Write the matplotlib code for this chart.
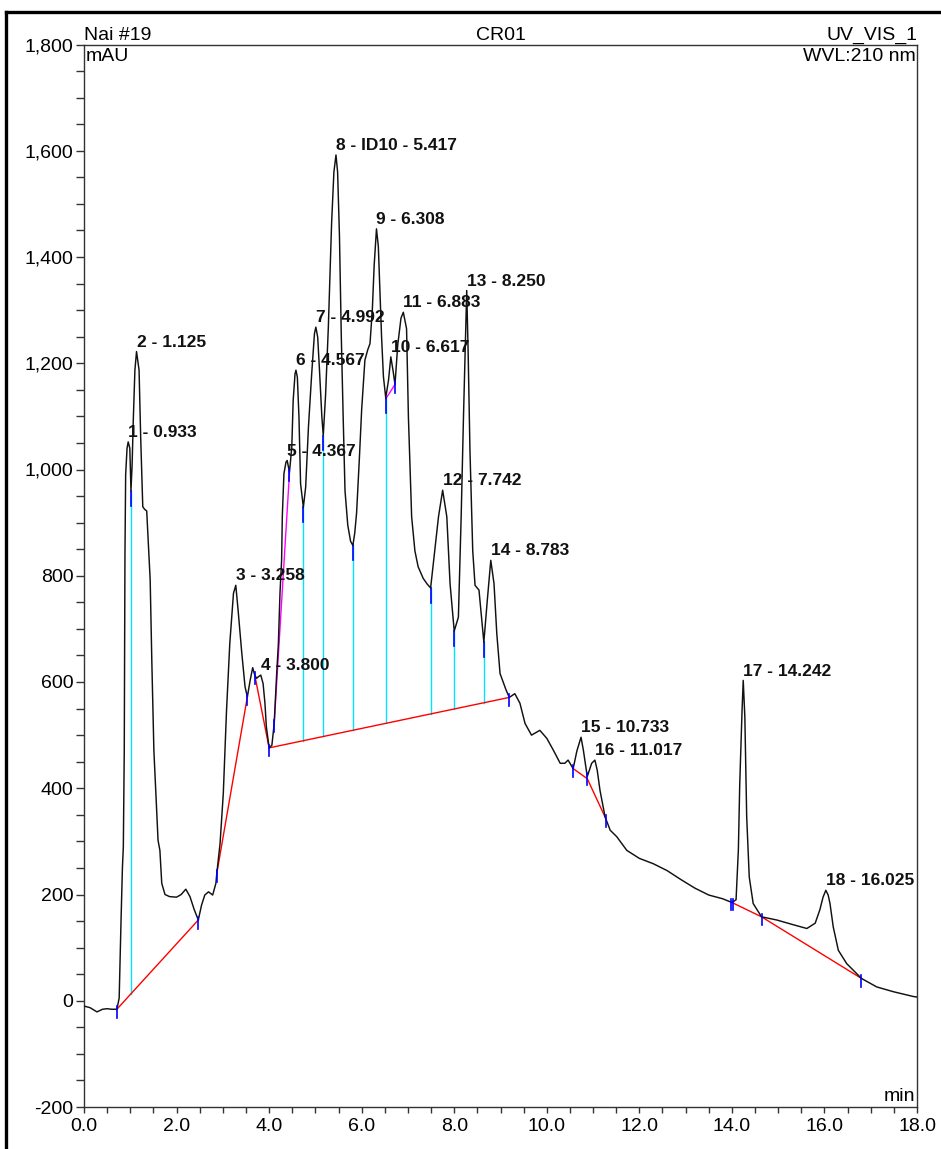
import numpy as np
import matplotlib
matplotlib.use("Agg")
import matplotlib.pyplot as plt
from matplotlib.ticker import MultipleLocator, FuncFormatter
from matplotlib.lines import Line2D

plt.rcParams["font.family"] = ["Liberation Sans", "DejaVu Sans"]
plt.rcParams["axes.unicode_minus"] = False

# ---------------- data ----------------
time_min = [0.00, 0.13, 0.28, 0.40, 0.50, 0.60, 0.71, 0.76, 0.80, 0.83, 0.85, 0.87, 0.885, 0.90, 0.93,
            0.955, 0.99, 1.015, 1.04, 1.065, 1.10, 1.135, 1.19, 1.225, 1.27, 1.31, 1.355, 1.43, 1.465,
            1.51, 1.60, 1.64, 1.68, 1.75, 1.85, 2.00, 2.10, 2.20, 2.29, 2.38, 2.47, 2.54, 2.61, 2.69,
            2.78, 2.85, 2.87, 2.94, 3.01, 3.08, 3.15, 3.23, 3.28, 3.33, 3.41, 3.48, 3.53, 3.59, 3.645,
            3.69, 3.73, 3.77, 3.82, 3.87, 3.91, 3.94, 4.00, 4.06, 4.11, 4.16, 4.20, 4.235, 4.27, 4.285,
            4.32, 4.365, 4.39, 4.44, 4.49, 4.52, 4.56, 4.58, 4.61, 4.645, 4.68, 4.74, 4.79, 4.85, 4.92,
            4.98, 5.01, 5.05, 5.085, 5.14, 5.17, 5.22, 5.28, 5.35, 5.40, 5.445, 5.48, 5.52, 5.56, 5.60,
            5.64, 5.70, 5.76, 5.81, 5.85, 5.89, 5.95, 6.00, 6.07, 6.13, 6.18, 6.23, 6.27, 6.32, 6.36,
            6.39, 6.43, 6.47, 6.52, 6.58, 6.63, 6.68, 6.72, 6.78, 6.85, 6.90, 6.97, 7.01, 7.08, 7.15,
            7.22, 7.33, 7.41, 7.49, 7.58, 7.66, 7.75, 7.84, 7.91, 8.00, 8.09, 8.15, 8.20, 8.27, 8.30,
            8.34, 8.40, 8.45, 8.535, 8.64, 8.715, 8.79, 8.86, 8.92, 8.99, 9.12, 9.19, 9.31, 9.42, 9.53,
            9.67, 9.85, 10.00, 10.14, 10.29, 10.39, 10.46, 10.57, 10.65, 10.74, 10.79, 10.875, 10.97,
            11.04, 11.09, 11.15, 11.26, 11.37, 11.51, 11.73, 12.00, 12.30, 12.60, 12.90, 13.20, 13.50,
            13.80, 14.00, 14.09, 14.14, 14.17, 14.22, 14.245, 14.28, 14.32, 14.375, 14.46, 14.64, 14.97,
            15.33, 15.62, 15.80, 15.90, 15.97, 16.03, 16.08, 16.12, 16.19, 16.30, 16.48, 16.80, 17.13,
            17.49, 17.92, 18.00]
signal_mau = [-10, -13, -21, -16, -15, -16, -16, 5, 150, 250, 290, 470, 840, 990, 1040,
              1052, 1040, 960, 1010, 1093, 1187, 1222, 1187, 1060, 930, 925, 922, 792, 641,
              471, 302, 283, 221, 200, 196, 195, 200, 210, 196, 172, 152, 180, 199, 205,
              199, 221, 240, 296, 390, 547, 672, 767, 782, 735, 654, 591, 572, 603, 627,
              613, 607, 610, 613, 597, 560, 516, 476, 481, 522, 610, 672, 767, 829, 911,
              992, 1014, 1017, 995, 1042, 1130, 1180, 1187, 1174, 1099, 973, 929, 967, 1080, 1180,
              1256, 1268, 1249, 1193, 1099, 1064, 1140, 1268, 1463, 1560, 1592, 1560, 1440, 1250, 1100,
              960, 895, 865, 857, 880, 918, 1020, 1113, 1206, 1225, 1237, 1300, 1384, 1453, 1420,
              1346, 1250, 1175, 1135, 1168, 1212, 1185, 1160, 1235, 1285, 1296, 1265, 1099, 911, 847,
              817, 795, 785, 777, 847, 911, 961, 911, 785, 696, 722, 911, 1099, 1337, 1224,
              1036, 847, 782, 773, 675, 754, 829, 785, 691, 616, 585, 571, 578, 560, 522,
              500, 509, 494, 472, 447, 447, 453, 437, 470, 496, 472, 422, 447,
              453, 434, 396, 346, 321, 309, 283, 268, 258, 245, 228, 212, 199,
              192, 185, 190, 284, 409, 547, 603, 534, 346, 233, 183, 158, 152,
              143, 136, 146, 171, 195, 208, 199, 183, 139, 95, 70, 42, 26,
              17, 8, 7]

# peak annotations
peak_numbers = [1, 2, 3, 4, 5, 6, 7, 8, 9, 10, 11, 12, 13, 14, 15, 16, 17, 18]
peak_names = ["", "", "", "", "", "", "", "ID10", "", "", "", "", "", "", "", "", "", ""]
peak_rt = ["0.933", "1.125", "3.258", "3.800", "4.367", "4.567", "4.992", "5.417", "6.308",
           "6.617", "6.883", "7.742", "8.250", "8.783", "10.733", "11.017", "14.242", "16.025"]

# integration baselines (red)
baseline_1_t = [0.71, 2.47]
baseline_1_y = [-16, 152]
baseline_2_t = [2.87, 3.53]
baseline_2_y = [240, 572]
baseline_3_t = [3.69, 4.00]
baseline_3_y = [613, 476]
baseline_4_t = [4.00, 9.19]
baseline_4_y = [476, 571]
baseline_5_t = [10.57, 10.875, 11.27]
baseline_5_y = [437, 418, 344]
baseline_6_t = [14.00, 14.64, 16.80]
baseline_6_y = [185, 158, 42]

# rider baselines (magenta)
rider_1_t = [4.11, 4.44]
rider_1_y = [522, 993]
rider_2_t = [6.52, 6.72]
rider_2_y = [1133, 1160]

# perpendicular drops (cyan) at valleys
drop_times_b1 = [1.015]
drop_times_b4 = [4.74, 5.17, 5.81, 6.52, 7.49, 8.00, 8.64]

# peak delimiter marks (blue)
marker_times = [0.71, 2.47, 2.87, 3.53, 3.69, 4.00, 4.11, 4.44, 6.72, 9.19,
                10.57, 10.875, 11.27, 13.97, 14.02, 14.64, 16.80]

# ---------------- figure ----------------
W, H = 941, 1149
fig = plt.figure(figsize=(W / 100, H / 100), dpi=100)
left, right, top, bottom = 84, 917, 44.5, 1107
ax = fig.add_axes([left / W, 1 - bottom / H, (right - left) / W, (bottom - top) / H])

t = np.array(time_min)
s = np.array(signal_mau)

# baselines
for bt, by in [(baseline_1_t, baseline_1_y), (baseline_2_t, baseline_2_y), (baseline_3_t, baseline_3_y),
               (baseline_4_t, baseline_4_y), (baseline_5_t, baseline_5_y), (baseline_6_t, baseline_6_y)]:
    ax.plot(bt, by, color="#ff0000", lw=1.0, zorder=3)

for rt_, ry_ in [(rider_1_t, rider_1_y), (rider_2_t, rider_2_y)]:
    ax.plot(rt_, ry_, color="#ff00ff", lw=1.0, zorder=3)

# drop lines
for dt in drop_times_b1:
    yt = np.interp(dt, t, s)
    yb = np.interp(dt, baseline_1_t, baseline_1_y)
    ax.plot([dt, dt], [yb, yt], color="#00e5ff", lw=1.0, zorder=2)
    ax.plot([dt, dt], [yt - 28, yt], color="#0000ff", lw=1.2, zorder=4)
for dt in drop_times_b4:
    yt = np.interp(dt, t, s)
    yb = np.interp(dt, baseline_4_t, baseline_4_y)
    ax.plot([dt, dt], [yb, yt], color="#00e5ff", lw=1.0, zorder=2)
    ax.plot([dt, dt], [yt - 28, yt], color="#0000ff", lw=1.2, zorder=4)

# trace
ax.plot(t, s, color="#111111", lw=1.05, zorder=5)

# blue delimiter marks
for mt in marker_times:
    ym = np.interp(mt, t, s)
    ax.plot([mt, mt], [ym - 16, ym + 6], color="#0000ff", lw=1.2, zorder=6)

# peak labels
for num, name, rt in zip(peak_numbers, peak_names, peak_rt):
    r = float(rt)
    win = np.abs(t - r) < 0.08
    idx = np.where(win)[0][np.argmax(s[win])]
    label = f"{num} - {name} - {rt}" if name else f"{num} - {rt}"
    ax.annotate(label, xy=(t[idx], s[idx]), xytext=(0, 3.5), textcoords="offset points",
                ha="left", va="baseline", fontsize=12.5, fontweight="bold", color="#111111", zorder=7)

# axes styling
ax.set_xlim(0, 18)
ax.set_ylim(-200, 1800)
ax.xaxis.set_major_locator(MultipleLocator(2))
ax.xaxis.set_minor_locator(MultipleLocator(0.5))
ax.yaxis.set_major_locator(MultipleLocator(200))
ax.yaxis.set_minor_locator(MultipleLocator(50))
ax.xaxis.set_major_formatter(FuncFormatter(lambda v, p: f"{v:.1f}"))
ax.yaxis.set_major_formatter(FuncFormatter(lambda v, p: f"{v:,.0f}"))
ax.tick_params(axis="x", which="both", direction="out", length=4, width=1.0, color="#333333",
               labelsize=14, pad=4)
ax.tick_params(axis="y", which="both", direction="out", length=5.5, width=1.0, color="#333333",
               labelsize=14, pad=2)
for sp in ax.spines.values():
    sp.set_color("#333333")
    sp.set_linewidth(1.0)

# header / corner texts
ax.text(0.0, 1.0, "Nai #19", transform=ax.transAxes, ha="left", va="bottom", fontsize=14)
ax.text(0.5, 1.0, "CR01", transform=ax.transAxes, ha="center", va="bottom", fontsize=14)
ax.text(1.0, 1.0, "UV_VIS_1", transform=ax.transAxes, ha="right", va="bottom", fontsize=14)
ax.text(0.002, 0.997, "mAU", transform=ax.transAxes, ha="left", va="top", fontsize=14)
ax.text(0.998, 0.997, "WVL:210 nm", transform=ax.transAxes, ha="right", va="top", fontsize=14)
ax.text(0.998, 0.002, "min", transform=ax.transAxes, ha="right", va="bottom", fontsize=14)

# outer frame (partially cropped in the original)
fig.add_artist(Line2D([6 / W, 1.0], [1 - 12 / H, 1 - 12 / H], transform=fig.transFigure,
                      color="black", lw=2.4))
fig.add_artist(Line2D([6 / W, 6 / W], [0.0, 1 - 12 / H], transform=fig.transFigure,
                      color="black", lw=2.4))

fig.savefig("out.png", dpi=100)
